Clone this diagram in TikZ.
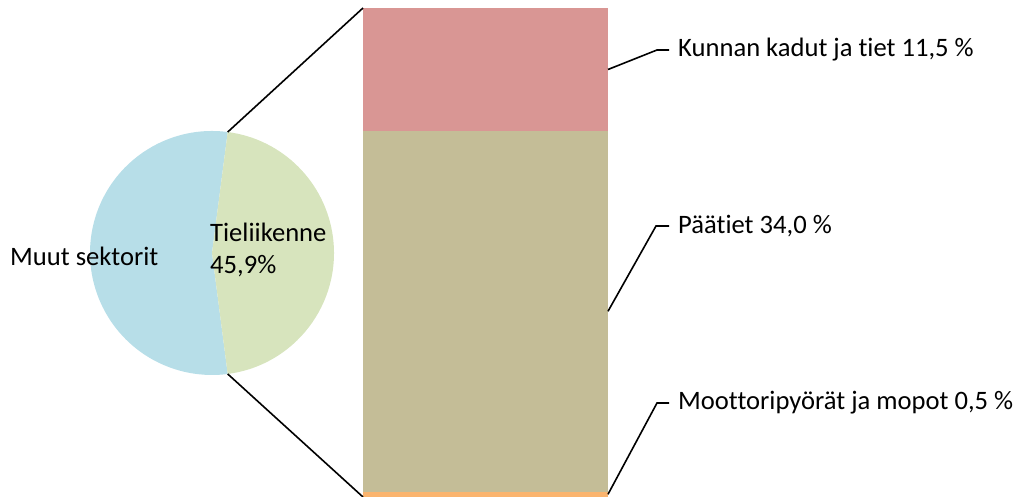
\documentclass[tikz,border=0pt]{standalone}
\usepackage{fontspec}
\setmainfont{Carlito}[Ligatures=NoCommon]
\usetikzlibrary{calc}
\definecolor{muutblue}{HTML}{B7DEE8}
\definecolor{tiegreen}{HTML}{D7E4BD}
\definecolor{katured}{HTML}{D99694}
\definecolor{paatan}{HTML}{C4BD97}
\definecolor{mopoorange}{HTML}{FAB46E}
\tikzset{
  lbl/.style={inner sep=0pt,anchor=west,font=\fontsize{26.6}{32}\selectfont},
  leader/.style={draw=black,line width=1.6pt}
}
\begin{document}
\begin{tikzpicture}[x=1pt,y=1pt]
\useasboundingbox (0,0) rectangle (1020,497);
% Pie
\coordinate (pc) at (212,244);
\fill[muutblue] (pc) -- ++(82.6:122) arc[start angle=82.6, end angle=277.4, radius=122] -- cycle;
\fill[tiegreen] (pc) -- ++(-82.6:122) arc[start angle=-82.6, end angle=82.6, radius=122] -- cycle;
\coordinate (pietop) at ($(pc)+(82.6:122)$);
\coordinate (piebot) at ($(pc)+(-82.6:122)$);
\node[lbl] (muut) at (10,241) {Muut sektorit};
\node[lbl,align=left] (tie) at (210,247) {Tieliikenne\\45,9\%};
% Bar of pie
\fill[mopoorange] (363,0) rectangle (608,5.3);
\fill[paatan] (363,5.3) rectangle (608,366);
\fill[katured] (363,366) rectangle (608,489);
\coordinate (bartop) at (363,489);
\coordinate (barbot) at (363,0);
\draw[leader] (pietop) -- (bartop);
\draw[leader] (piebot) -- (barbot);
% Labels with leaders
\node[lbl] (kadut) at (678,447) {Kunnan kadut ja tiet 11,5 \%};
\node[lbl] (paatiet) at (678,271) {Päätiet 34,0 \%};
\node[lbl] (mopot) at (678,94) {Moottoripyörät ja mopot 0,5 \%};
\coordinate (kaduts) at (608,427.5);
\coordinate (paatiets) at (608,185.7);
\coordinate (mopots) at (608,2.7);
\draw[leader] (kaduts) -- (657,447) -- ([xshift=-9pt]kadut.west);
\draw[leader] (paatiets) -- (656,271) -- ([xshift=-9pt]paatiet.west);
\draw[leader] (mopots) -- (657,94) -- ([xshift=-9pt]mopot.west);
\end{tikzpicture}
\end{document}
